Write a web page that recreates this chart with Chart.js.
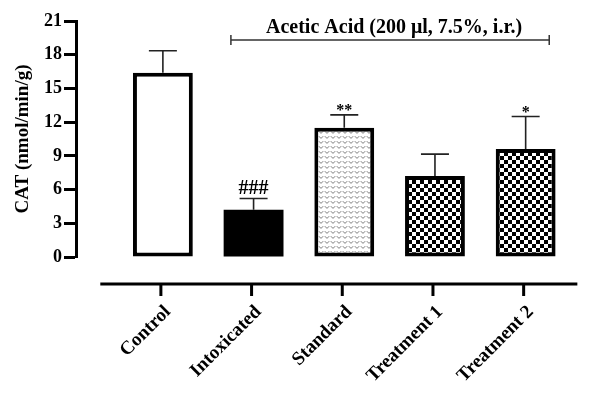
<!DOCTYPE html>
<html>
<head>
<meta charset="utf-8">
<script src="https://cdn.jsdelivr.net/npm/chart.js@4.4.1/dist/chart.umd.min.js"></script>
<style>
  html, body { margin: 0; padding: 0; background: #fff; }
  #wrap { width: 592px; height: 396px; position: relative; }
</style>
</head>
<body>
<div id="wrap"><canvas id="catChart"></canvas></div>
<script>
// CAT activity per group (nmol/min/g)
const groups = ['Control', 'Intoxicated', 'Standard', 'Treatment 1', 'Treatment 2'];
const catMeans = [16.4, 4.2, 11.5, 7.2, 9.6];
const catErrors = [1.95, 1.0, 1.15, 1.95, 2.9];
const sigMarks = ['', '###', '**', '', '*'];
const yTicks = [0, 3, 6, 9, 12, 15, 18, 21];
const bracketLabel = 'Acetic Acid (200 \u03bcl, 7.5%, i.r.)';
const bracketRange = [0.75, 4.26];

const FONT = '"Liberation Serif", "Times New Roman", serif';

function makePattern(kind) {
    const c = document.createElement('canvas');
    const g = c.getContext('2d');
    if (kind === 'checker') {
        c.width = 8; c.height = 8;
        g.fillStyle = '#fff';
        g.fillRect(0, 0, 8, 8);
        g.fillStyle = '#000';
        g.fillRect(0, 0, 4, 4);
        g.fillRect(4, 4, 4, 4);
    } else {
        c.width = 6; c.height = 5;
        g.fillStyle = '#fff';
        g.fillRect(0, 0, 6, 5);
        g.strokeStyle = '#7a7a7a';
        g.lineWidth = 1;
        g.beginPath();
        g.moveTo(0.8, 1.2);
        g.lineTo(3, 3.4);
        g.lineTo(5.2, 1.2);
        g.stroke();
    }
    const ctx = document.getElementById('catChart').getContext('2d');
    return ctx.createPattern(c, 'repeat');
}

const fills = ['#ffffff', '#000000', makePattern('dots'), makePattern('checker'), makePattern('checker')];

// error bars, significance marks, offset x axis and the bracket
const extrasPlugin = {
    id: 'extras',
    afterDatasetsDraw(chart) {
        const ctx = chart.ctx;
        const xs = chart.scales.x;
        const ys = chart.scales.y;
        ctx.save();

        // error bars (upper only)
        ctx.strokeStyle = '#222';
        ctx.lineWidth = 1.6;
        catMeans.forEach((m, i) => {
            const x = xs.getPixelForValue(i);
            const yTop = ys.getPixelForValue(m + catErrors[i]);
            const yBar = ys.getPixelForValue(m);
            ctx.beginPath();
            ctx.moveTo(x, yBar);
            ctx.lineTo(x, yTop);
            ctx.moveTo(x - 14, yTop);
            ctx.lineTo(x + 14, yTop);
            ctx.stroke();

            if (sigMarks[i]) {
                ctx.fillStyle = '#000';
                ctx.textAlign = 'center';
                ctx.textBaseline = 'alphabetic';
                const star = sigMarks[i].indexOf('*') >= 0;
                ctx.font = 'bold ' + (star ? 16 : 20) + 'px ' + FONT;
                ctx.fillText(sigMarks[i], x, yTop - (star ? 0 : 5));
            }
        });

        // x axis drawn below the plot, GraphPad style
        const axisY = chart.chartArea.bottom + 27;
        ctx.strokeStyle = '#000';
        ctx.lineWidth = 3;
        ctx.beginPath();
        ctx.moveTo(xs.getPixelForValue(-0.69), axisY);
        ctx.lineTo(xs.getPixelForValue(4.57), axisY);
        groups.forEach((_, i) => {
            const x = xs.getPixelForValue(i) - 2;
            ctx.moveTo(x, axisY);
            ctx.lineTo(x, axisY + 12);
        });
        ctx.stroke();

        // bracket with treatment label
        const bx1 = xs.getPixelForValue(bracketRange[0]);
        const bx2 = xs.getPixelForValue(bracketRange[1]);
        const by = 40;
        ctx.strokeStyle = '#333';
        ctx.lineWidth = 1.5;
        ctx.beginPath();
        ctx.moveTo(bx1, by);
        ctx.lineTo(bx2, by);
        ctx.moveTo(bx1, by - 5);
        ctx.lineTo(bx1, by + 5);
        ctx.moveTo(bx2, by - 5);
        ctx.lineTo(bx2, by + 5);
        ctx.stroke();
        ctx.fillStyle = '#000';
        ctx.font = 'bold 20px ' + FONT;
        ctx.textAlign = 'center';
        ctx.textBaseline = 'alphabetic';
        ctx.fillText(bracketLabel, (bx1 + bx2) / 2 + 4, 33);

        ctx.restore();
    }
};

const ctx = document.getElementById('catChart');
new Chart(ctx, {
    type: 'bar',
    data: {
        datasets: [{
            data: catMeans.map((v, i) => ({ x: i, y: v })),
            backgroundColor: fills,
            borderColor: '#000',
            // solid black bar needs no separate outline
            borderWidth: [4, 0, 4, 4, 4],
            borderSkipped: false,
            categoryPercentage: 0.66,
            barPercentage: 1.0
        }]
    },
    options: {
        responsive: true,
        maintainAspectRatio: false,
        animation: false,
        layout: { padding: { top: 21, right: 21, left: 0, bottom: 0 } },
        plugins: {
            legend: { display: false },
            tooltip: { enabled: false }
        },
        scales: {
            x: {
                type: 'linear',
                offset: false,
                min: -0.958,
                max: 4.5,
                grid: { display: false, drawTicks: false },
                border: { display: false },
                afterBuildTicks: (scale) => { scale.ticks = groups.map((_, i) => ({ value: i })); },
                afterFit: (scale) => { scale.height = 139; },
                ticks: {
                    callback: (val) => groups[val],
                    autoSkip: false,
                    minRotation: 45,
                    maxRotation: 45,
                    padding: 44,
                    labelOffset: 5,
                    color: '#000',
                    font: { family: FONT, size: 19, weight: 'bold' }
                }
            },
            y: {
                min: 0,
                max: 21,
                afterBuildTicks: (scale) => { scale.ticks = yTicks.map(v => ({ value: v })); },
                afterFit: (scale) => { scale.width = 76; },
                grid: { drawOnChartArea: false, tickLength: 12, tickWidth: 3, tickColor: '#000' },
                border: { display: true, color: '#000', width: 3 },
                ticks: {
                    padding: 2,
                    color: '#000',
                    font: { family: FONT, size: 18, weight: 'bold' }
                },
                title: {
                    display: true,
                    text: 'CAT (nmol/min/g)',
                    color: '#000',
                    padding: { top: 12, bottom: 0 },
                    font: { family: FONT, size: 19, weight: 'bold' }
                }
            }
        }
    },
    plugins: [extrasPlugin]
});
</script>
</body>
</html>
